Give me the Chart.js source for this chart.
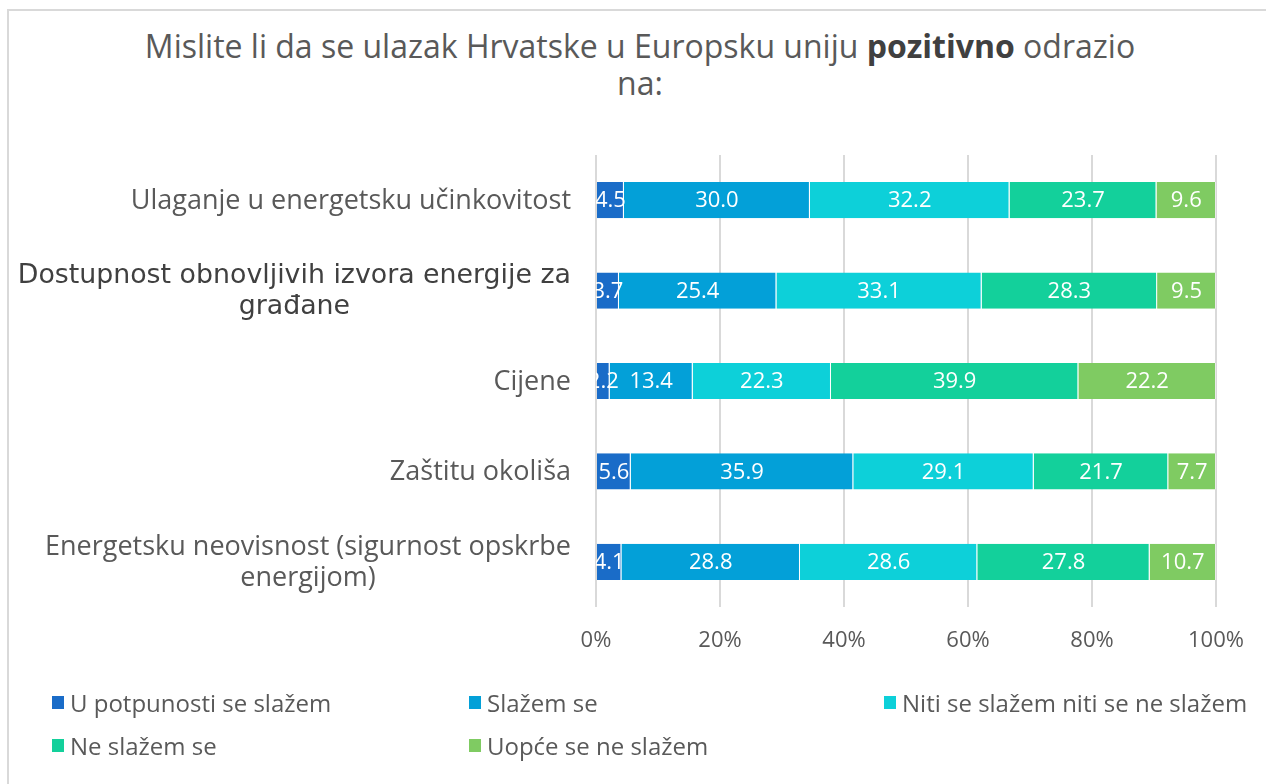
<!DOCTYPE html>
<html>
<head>
<meta charset="utf-8">
<script src="https://cdn.jsdelivr.net/npm/chart.js@4"></script>
<style>
  body { margin: 0; background: #fff; overflow: hidden; font-family: "Open Sans", sans-serif; }
  #frame { position: absolute; left: 7px; top: 9px; width: 1300px; height: 800px; border: 2px solid #d9d9d9; }
  #title { position: absolute; left: 0; top: 27px; width: 1280px; text-align: center; color: #595959; font-size: 32px; line-height: 37px; }
  #title b { color: #404040; }
  #wrap { position: absolute; left: 0; top: 0; width: 1266px; height: 784px; }
  #legend { position: absolute; left: 52px; top: 688px; display: grid; grid-template-columns: 417px 415px auto; row-gap: 15px; color: #595959; font-size: 24px; }
  #legend div { display: flex; align-items: center; height: 28px; }
  #legend span.box { width: 12px; height: 13px; margin-right: 6px; }
</style>
</head>
<body>
<div id="frame"></div>
<div id="title">Mislite li da se ulazak Hrvatske u Europsku uniju <b>pozitivno</b> odrazio<br>na:</div>
<div id="wrap"><canvas id="chart"></canvas></div>
<div id="legend"></div>
<script>
var categories = [
  "Ulaganje u energetsku učinkovitost",
  ["Dostupnost obnovljivih izvora energije za", "građane"],
  "Cijene",
  "Zaštitu okoliša",
  ["Energetsku neovisnost (sigurnost opskrbe", "energijom)"]
];
var seriesNames = ["U potpunosti se slažem", "Slažem se", "Niti se slažem niti se ne slažem", "Ne slažem se", "Uopće se ne slažem"];
var seriesColors = ["#1a6cc8", "#03a0d8", "#0dd0d9", "#13d09b", "#7fcb62"];
var potpuno = [4.5, 3.7, 2.2, 5.6, 4.1];
var slazem = [30.0, 25.4, 13.4, 35.9, 28.8];
var niti = [32.2, 33.1, 22.3, 29.1, 28.6];
var neSlazem = [23.7, 28.3, 39.9, 21.7, 27.8];
var uopce = [9.6, 9.5, 22.2, 7.7, 10.7];
var tickValues = [0, 20, 40, 60, 80, 100];

var seriesValues = [potpuno, slazem, niti, neSlazem, uopce];

var labelFont = "Open Sans";

// white value labels in the middle of each segment
var barLabels = {
  id: "barLabels",
  afterDatasetsDraw: function(chart) {
    var ctx = chart.ctx;
    var area = chart.chartArea;
    ctx.save();
    ctx.beginPath();
    ctx.rect(area.left, area.top, area.right - area.left, area.bottom - area.top);
    ctx.clip();
    ctx.fillStyle = "#ffffff";
    ctx.font = "22px " + labelFont;
    ctx.textAlign = "center";
    ctx.textBaseline = "middle";
    chart.data.datasets.forEach(function(ds, i) {
      chart.getDatasetMeta(i).data.forEach(function(bar, j) {
        var x = (bar.x + bar.base) / 2;
        ctx.fillText(ds.data[j].toFixed(1), x, bar.y + 1);
      });
    });
    ctx.restore();
  }
};

// category labels: block right aligned, lines centred inside the block
var categoryLabels = {
  id: "categoryLabels",
  afterDraw: function(chart) {
    var ctx = chart.ctx;
    var y = chart.scales.y;
    var right = chart.chartArea.left - 25;
    ctx.save();
    ctx.textAlign = "center";
    ctx.textBaseline = "middle";
    chart.data.labels.forEach(function(label, i) {
      var lines = Array.isArray(label) ? label : [label];
      var odd = i === 1;
      var size = odd ? 26.8 : 27;
      ctx.font = size + "px " + (odd ? "DejaVu Sans" : labelFont);
      ctx.fillStyle = odd ? "#404040" : "#595959";
      var w = Math.max.apply(null, lines.map(function(l) { return ctx.measureText(l).width; }));
      var cx = right - w / 2;
      var cy = y.getPixelForTick(i);
      var lh = 31;
      lines.forEach(function(l, k) {
        ctx.fillText(l, cx, cy + (k - (lines.length - 1) / 2) * lh + 1);
      });
    });
    ctx.restore();
  }
};

new Chart("chart", {
  type: "bar",
  data: {
    labels: categories,
    datasets: seriesNames.map(function(name, i) {
      return {
        label: name,
        data: seriesValues[i],
        backgroundColor: seriesColors[i],
        borderColor: "rgba(255,255,255,0.45)",
        borderWidth: {right: 1},
        borderSkipped: false,
        barPercentage: 0.4,
        categoryPercentage: 1
      };
    })
  },
  options: {
    indexAxis: "y",
    responsive: true,
    maintainAspectRatio: false,
    animation: false,
    layout: {padding: {top: 155, left: 10, right: 50, bottom: 117}},
    plugins: {
      legend: {display: false},
      title: {display: false},
      tooltip: {enabled: false}
    },
    scales: {
      x: {
        stacked: true,
        min: 0,
        max: 100,
        afterBuildTicks: function(scale) {
          scale.ticks = tickValues.map(function(v) { return {value: v}; });
        },
        afterFit: function(scale) { scale.height = 60; },
        grid: {color: "#d9d9d9", lineWidth: 2, drawTicks: false},
        border: {display: false},
        ticks: {
          padding: 21,
          color: "#595959",
          font: {family: labelFont, size: 22},
          callback: function(v) { return v + "%"; }
        }
      },
      y: {
        stacked: true,
        afterFit: function(scale) { scale.width = 586; },
        grid: {display: false, drawTicks: false},
        border: {display: false},
        ticks: {display: false}
      }
    }
  },
  plugins: [barLabels, categoryLabels]
});

// legend in three columns, like the original
var legend = document.getElementById("legend");
seriesNames.forEach(function(name, i) {
  var item = document.createElement("div");
  var box = document.createElement("span");
  box.className = "box";
  box.style.background = seriesColors[i];
  item.appendChild(box);
  item.appendChild(document.createTextNode(name));
  legend.appendChild(item);
});
</script>
</body>
</html>
